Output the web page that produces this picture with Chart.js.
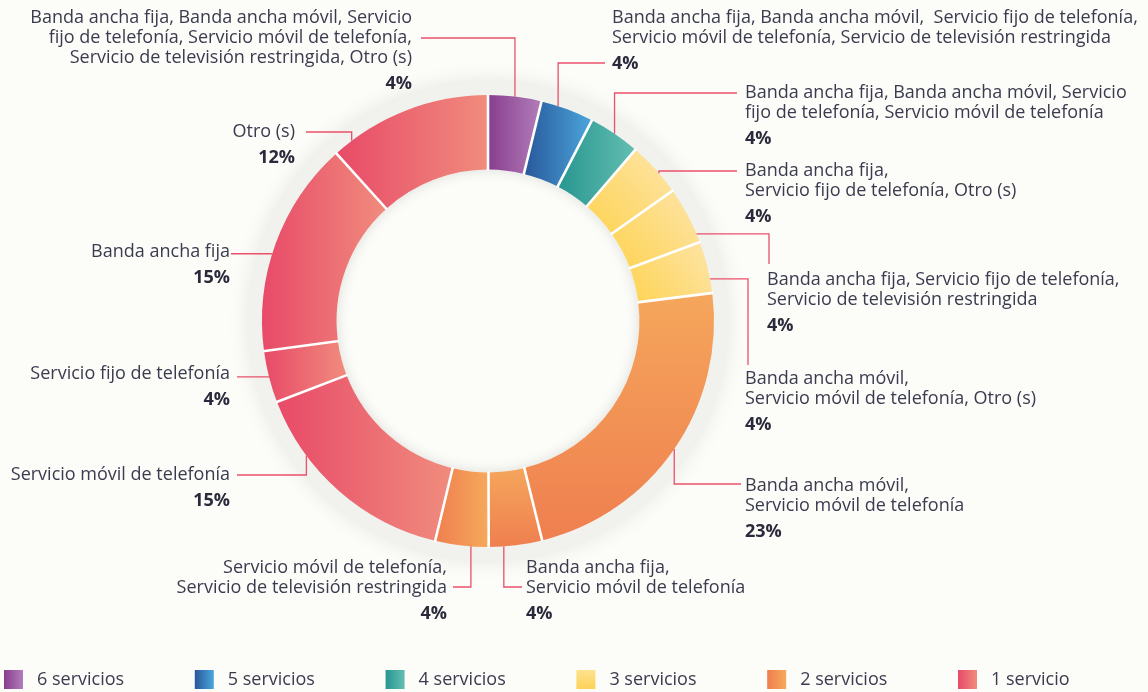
<!DOCTYPE html>
<html>
<head>
<meta charset="utf-8">
<script src="https://cdn.jsdelivr.net/npm/chart.js@4.4.0/dist/chart.umd.min.js"></script>
<style>
  html, body { margin: 0; padding: 0; background: #fcfcf8; }
  canvas { display: block; }
</style>
</head>
<body>
<canvas id="donut" width="1148" height="692"></canvas>
<script>
// categories (one entry per slice, already broken into lines as in the figure)
const categories = [
    ['Banda ancha fija, Banda ancha móvil, Servicio', 'fijo de telefonía, Servicio móvil de telefonía,', 'Servicio de televisión restringida, Otro (s)'],
    ['Banda ancha fija, Banda ancha móvil,  Servicio fijo de telefonía,', 'Servicio móvil de telefonía, Servicio de televisión restringida'],
    ['Banda ancha fija, Banda ancha móvil, Servicio', 'fijo de telefonía, Servicio móvil de telefonía'],
    ['Banda ancha fija,', 'Servicio fijo de telefonía, Otro (s)'],
    ['Banda ancha fija, Servicio fijo de telefonía,', 'Servicio de televisión restringida'],
    ['Banda ancha móvil,', 'Servicio móvil de telefonía, Otro (s)'],
    ['Banda ancha móvil,', 'Servicio móvil de telefonía'],
    ['Banda ancha fija,', 'Servicio móvil de telefonía'],
    ['Servicio móvil de telefonía,', 'Servicio de televisión restringida'],
    ['Servicio móvil de telefonía'],
    ['Servicio fijo de telefonía'],
    ['Banda ancha fija'],
    ['Otro (s)']
];
// share of each combination (%)
const shares = [3.8, 3.8, 3.7, 3.9, 4.1, 3.7, 23.1, 3.8, 3.8, 15.4, 3.7, 15.4, 11.7];
// number of services per slice -> legend group
const serviceCount = [6, 5, 4, 3, 3, 3, 2, 2, 2, 1, 1, 1, 1];
const legendLabels = ['6 servicios', '5 servicios', '4 servicios', '3 servicios', '2 servicios', '1 servicio'];

// gradient fills: [start colour, end colour, direction]
const groupFills = {
    6: ['#883e8e', '#b27db9', 'h'],
    5: ['#28579a', '#4ba6db', 'h'],
    4: ['#279690', '#63beb1', 'h'],
    3: ['#fed352', '#fde5aa', 'd'],
    2: ['#f5a65c', '#ef7f4f', 'v'],
    1: ['#e84a68', '#f08c7d', 'h']
};
const sliceFillOverride = { 8: ['#ef7f4f', '#f6a95c', 'h'] };
const legendFills = [groupFills[6], groupFills[5], groupFills[4], ['#fde28f', '#fdd257', 'v'], ['#ef7e4e', '#f6aa5c', 'h'], groupFills[1]];

// callout layout: f = where on the slice the leader starts (0..1 of its angle)
const callouts = [
    {f: .5,  path: 'v', align: 'right', x: 412, y: 18,  ly: 38,  lx: 421},
    {f: .32, path: 'v', align: 'left',  x: 612, y: 18,  ly: 63,  lx: 605},
    {f: .5,  path: 'v', align: 'left',  x: 745, y: 93,  ly: 93,  lx: 737},
    {f: .6,  path: 'v', align: 'left',  x: 745, y: 171, ly: 171, lx: 737},
    {f: .85, path: 'h', align: 'left',  x: 767, y: 280, lx: 769, ly: 264},
    {f: .73, path: 'h', align: 'left',  x: 745, y: 379, lx: 748, ly: 365},
    {f: .5,  path: 'v', align: 'left',  x: 745, y: 486, ly: 484, lx: 741},
    {f: .72, path: 'v', align: 'left',  x: 526, y: 568, ly: 587, lx: 522},
    {f: .33, path: 'v', align: 'right', x: 447, y: 568, ly: 587, lx: 453},
    {f: .72, path: 'v', align: 'right', x: 230, y: 475, ly: 475, lx: 237},
    {f: .5,  path: 'h', align: 'right', x: 230, y: 374, lx: 237, ly: null},
    {f: .45, path: 'h', align: 'right', x: 230, y: 252, lx: 231, ly: null},
    {f: .12, path: 'v', align: 'right', x: 295, y: 132, ly: 132, lx: 306}
];

const BG = '#fcfcf8';
const TEXT = '#3b3b50';
const LEADER = '#e9506b';
const FONT = '"Open Sans", sans-serif';

function fillFor(i) {
    return sliceFillOverride[i] || groupFills[serviceCount[i]];
}

function makeGradient(g, spec, x0, y0, x1, y1) {
    let grad;
    if (spec[2] === 'h') grad = g.createLinearGradient(x0, 0, x1, 0);
    else if (spec[2] === 'v') grad = g.createLinearGradient(0, y0, 0, y1);
    else grad = g.createLinearGradient(x0, y1, x1, y0);
    grad.addColorStop(0, spec[0]);
    grad.addColorStop(1, spec[1]);
    return grad;
}

function arcFill(ctx) {
    const spec = fillFor(ctx.dataIndex);
    const el = ctx.element;
    if (!el || !el.outerRadius) return spec[0];
    const xs = [], ys = [];
    for (let k = 0; k <= 16; k++) {
        const a = el.startAngle + (el.endAngle - el.startAngle) * k / 16;
        [el.innerRadius, el.outerRadius].forEach(r => {
            xs.push(el.x + r * Math.cos(a));
            ys.push(el.y + r * Math.sin(a));
        });
    }
    return makeGradient(ctx.chart.ctx, spec, Math.min(...xs), Math.min(...ys), Math.max(...xs), Math.max(...ys));
}

const backdrop = {
    id: 'backdrop',
    beforeDraw(chart) {
        const g = chart.ctx;
        g.save();
        g.fillStyle = BG;
        g.fillRect(0, 0, chart.width, chart.height);
        g.restore();
    },
    beforeDatasetsDraw(chart) {
        const el = chart.getDatasetMeta(0).data[0];
        if (!el) return;
        const g = chart.ctx, cx = el.x, cy = el.y, R = el.outerRadius, r = el.innerRadius;
        g.save();
        g.shadowColor = 'rgba(0,0,0,0.10)';
        g.shadowBlur = 22;
        g.fillStyle = '#f1f1ee';
        g.beginPath(); g.arc(cx, cy, R + 13, 0, Math.PI * 2); g.fill();
        g.restore();
        g.save();
        g.fillStyle = BG;
        g.beginPath(); g.arc(cx, cy, r, 0, Math.PI * 2); g.fill();
        // soft shadow inside the hole
        g.beginPath(); g.arc(cx, cy, r, 0, Math.PI * 2); g.clip();
        g.shadowColor = 'rgba(0,0,0,0.13)';
        g.shadowBlur = 14;
        g.strokeStyle = '#ffffff';
        g.lineWidth = 40;
        g.beginPath(); g.arc(cx, cy, r + 20, 0, Math.PI * 2); g.stroke();
        g.restore();
    },
    afterDatasetsDraw(chart) {
        // white separators between slices, like the original
        const meta = chart.getDatasetMeta(0);
        const g = chart.ctx;
        g.save();
        g.strokeStyle = '#ffffff';
        g.lineWidth = 2.6;
        meta.data.forEach(el => {
            const a = el.startAngle;
            g.beginPath();
            g.moveTo(el.x + (el.innerRadius - 1) * Math.cos(a), el.y + (el.innerRadius - 1) * Math.sin(a));
            g.lineTo(el.x + (el.outerRadius + 1) * Math.cos(a), el.y + (el.outerRadius + 1) * Math.sin(a));
            g.stroke();
        });
        g.restore();
    }
};

const calloutLabels = {
    id: 'calloutLabels',
    afterDatasetsDraw(chart) {
        const g = chart.ctx;
        const meta = chart.getDatasetMeta(0);
        const values = chart.data.datasets[0].data;
        g.save();
        meta.data.forEach((el, i) => {
            const p = callouts[i];
            const a = el.startAngle + (el.endAngle - el.startAngle) * p.f;
            const sx = el.x + el.outerRadius * Math.cos(a);
            const sy = el.y + el.outerRadius * Math.sin(a);
            g.strokeStyle = LEADER;
            g.lineWidth = 1.3;
            g.beginPath();
            g.moveTo(sx, sy);
            if (p.path === 'v') {
                g.lineTo(sx, p.ly);
                g.lineTo(p.lx, p.ly);
            } else {
                g.lineTo(p.lx, sy);
                if (p.ly !== null) g.lineTo(p.lx, p.ly);
            }
            g.stroke();

            const lines = chart.data.labels[i];
            g.textAlign = p.align;
            g.textBaseline = 'middle';
            g.fillStyle = TEXT;
            g.font = '18px ' + FONT;
            lines.forEach((t, k) => g.fillText(t, p.x, p.y + k * 20));
            g.font = 'bold 18px ' + FONT;
            g.fillStyle = '#2a2a3c';
            g.fillText(Math.round(values[i]) + '%', p.x, p.y + (lines.length - 1) * 20 + 26);
        });
        g.restore();
    }
};

const groupLegend = {
    id: 'groupLegend',
    afterDraw(chart) {
        const g = chart.ctx;
        g.save();
        legendLabels.forEach((t, i) => {
            const x = 4 + i * 190.8, y = 670;
            g.fillStyle = makeGradient(g, legendFills[i], x, y, x + 19, y + 19);
            g.fillRect(x, y, 19, 19);
            g.fillStyle = TEXT;
            g.font = '18px ' + FONT;
            g.textAlign = 'left';
            g.textBaseline = 'middle';
            g.fillText(t, x + 33, y + 10);
        });
        g.restore();
    }
};

const chart = new Chart(document.getElementById('donut'), {
    type: 'doughnut',
    data: {
        labels: categories,
        datasets: [{
            data: shares,
            backgroundColor: arcFill,
            borderWidth: 0,
            hoverOffset: 0
        }]
    },
    options: {
        responsive: false,
        animation: false,
        events: [],
        cutout: '67%',
        layout: { padding: { left: 262, right: 434, top: 95, bottom: 145 } },
        plugins: {
            legend: { display: false },
            tooltip: { enabled: false }
        }
    },
    plugins: [backdrop, calloutLabels, groupLegend]
});
// second pass so the gradients can use the arc geometry
chart.update();
</script>
</body>
</html>
